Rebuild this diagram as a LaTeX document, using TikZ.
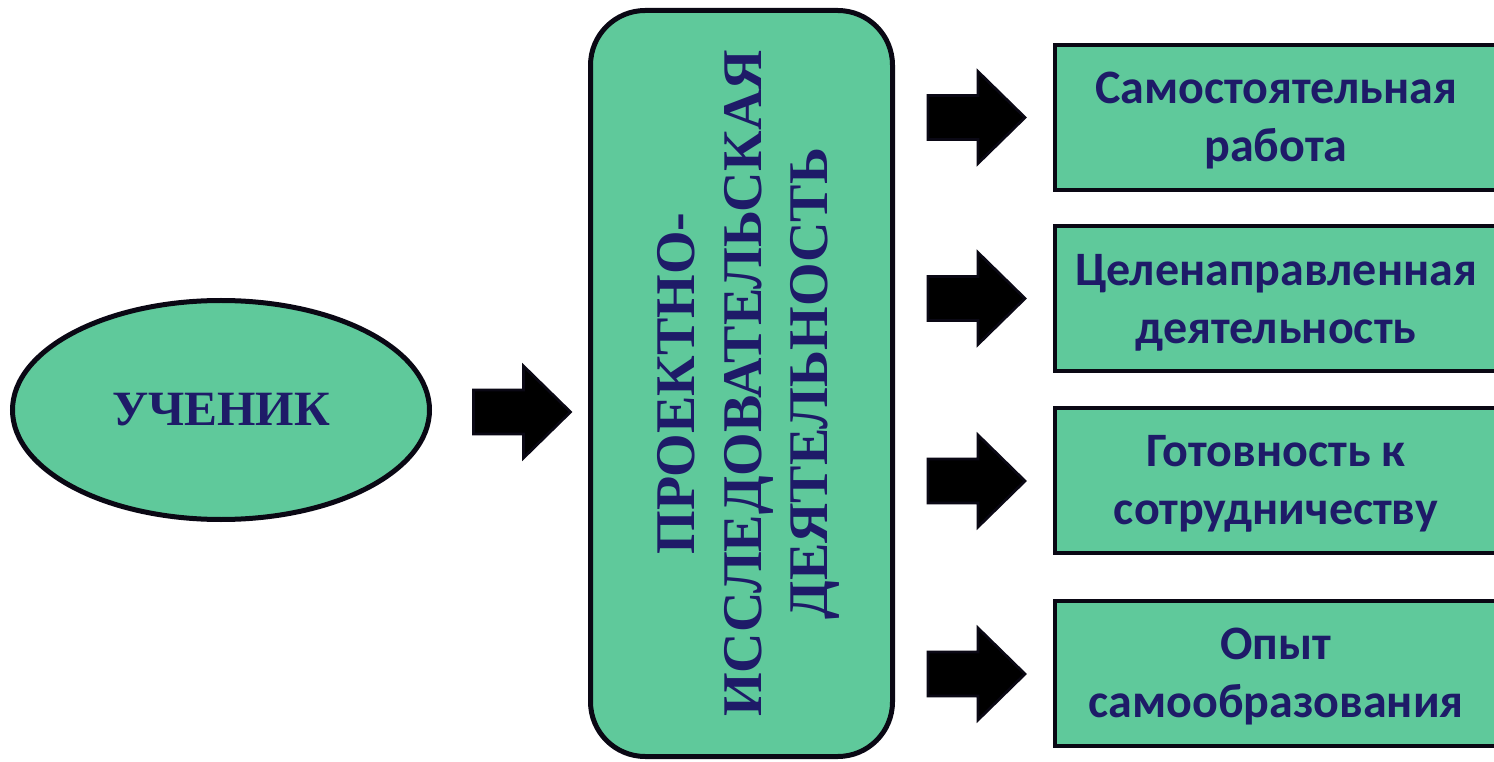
\documentclass[tikz,border=0pt]{standalone}
\usepackage{fontspec}
\setmainfont{Liberation Serif}
\newfontfamily\calfont{Carlito}
\usetikzlibrary{shapes.geometric}
\definecolor{boxgreen}{RGB}{95,201,155}
\definecolor{navytext}{RGB}{30,27,104}
\definecolor{edgeblack}{RGB}{10,8,20}
\tikzset{
  basebox/.style={draw=edgeblack, fill=boxgreen, text=navytext, inner sep=0pt},
  pupil/.style={basebox, ellipse, line width=3.75pt, minimum width=312.75pt, minimum height=164.25pt, font=\bfseries\fontsize{37}{44}\selectfont},
  activity/.style={basebox, rectangle, rounded corners=41pt, line width=3.75pt, minimum width=226.5pt, minimum height=559.5pt},
  result/.style={basebox, rectangle, line width=3pt, minimum width=331.5pt, minimum height=108.75pt},
  resulttext/.style={text=navytext, inner sep=0pt, align=center, font=\calfont\bfseries\fontsize{36}{43.5}\selectfont},
  blockarrow/.style={fill=black, draw=edgeblack, line width=2pt, line join=miter}
}
\newcommand{\blockarr}[2]{%
  \draw[blockarrow] (#1-48,#2-22) -- (#1+2,#2-22) -- (#1+2,#2-46) -- (#1+49,#2) -- (#1+2,#2+46) -- (#1+2,#2+22) -- (#1-48,#2+22) -- cycle;}
\begin{document}
\begin{tikzpicture}[x=0.75pt,y=-0.75pt]
\useasboundingbox (0,0) rectangle (1494,762);
\fill[white] (0,0) rectangle (1494,762);
\begin{scope}
\clip (0,0) rectangle (1494,762);
\node[pupil] (uchenik) at (221,410) {УЧЕНИК};
\node[activity] (act) at (741.5,383.5) {};
\node[rotate=90, text=navytext, align=center, font=\bfseries\fontsize{42}{50}\selectfont] (acttext) at (748.5,383.5) {ПРОЕКТНО-\\ИССЛЕДОВАТЕЛЬСКАЯ\\ДЕЯТЕЛЬНОСТЬ};
\node[result] (r1) at (1276,117.5) {};
\node[result] (r2) at (1276,299) {};
\node[result] (r3) at (1276,480.5) {};
\node[result] (r4) at (1276,673) {};
\node[resulttext] (r1t) at ([yshift=-2.5pt]r1.center) {Самостоятельная\\работа};
\node[resulttext] (r2t) at ([yshift=-2.5pt]r2.center) {Целенаправленная\\деятельность};
\node[resulttext] (r3t) at ([yshift=-2.5pt]r3.center) {Готовность к\\сотрудничеству};
\node[resulttext] (r4t) at ([yshift=-2.5pt]r4.center) {Опыт\\самообразования};
\end{scope}
\blockarr{521.5}{412}
\blockarr{976}{117.5}
\blockarr{976}{298.5}
\blockarr{976}{481}
\blockarr{976}{674}
\end{tikzpicture}
\end{document}
